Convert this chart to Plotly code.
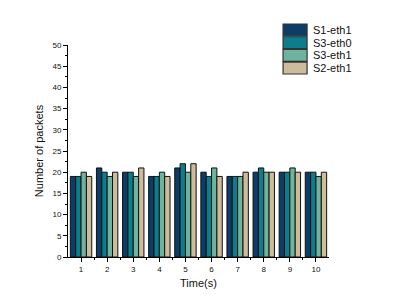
import plotly.graph_objects as go

times = [1, 2, 3, 4, 5, 6, 7, 8, 9, 10]
tick_labels = ["1", "2", "3", "4", "5", "6", "7", "8", "9", "10"]
series_names = ["S1-eth1", "S3-eth0", "S3-eth1", "S2-eth1"]
s1_eth1 = [19, 21, 20, 19, 21, 20, 19, 20, 20, 20]
s3_eth0 = [19, 20, 20, 19, 22, 19, 19, 21, 20, 20]
s3_eth1 = [20, 19, 19, 20, 20, 21, 19, 20, 21, 19]
s2_eth1 = [19, 20, 21, 19, 22, 19, 20, 20, 20, 20]
colors = ["#0b3d66", "#0a7e8c", "#6db39d", "#cdbb9b"]

values = [s1_eth1, s3_eth0, s3_eth1, s2_eth1]

fig = go.Figure()
for name, vals, col in zip(series_names, values, colors):
    fig.add_trace(go.Bar(x=times, y=vals, name=name, marker=dict(color=col, line=dict(color="#111111", width=1)),
                         showlegend=False))

# custom legend (paper coords = plot area)
shapes = []
annotations = []
lx0, lx1 = 0.824, 0.916
top = 1.099
row_h = 0.060
for i, (name, col) in enumerate(zip(series_names, colors)):
    y1 = top - i * row_h
    y0 = y1 - row_h * 0.93
    shapes.append(dict(type="rect", xref="paper", yref="paper", x0=lx0, x1=lx1, y0=y0, y1=y1,
                       fillcolor=col, line=dict(color="#333333", width=1.2)))
    annotations.append(dict(xref="paper", yref="paper", x=0.93, y=(y0 + y1) / 2, text=name, showarrow=False,
                            xanchor="left", yanchor="middle", font=dict(size=11, color="#111111")))

minor_vals = [t + 0.5 for t in times[:-1]]

fig.update_layout(
    width=390, height=300,
    margin=dict(l=60, r=69, t=37, b=51),
    paper_bgcolor="white", plot_bgcolor="white",
    barmode="group", bargap=0.18, bargroupgap=0,
    font=dict(family="Liberation Sans, Arial, sans-serif", color="#111111"),
    shapes=shapes, annotations=annotations,
    xaxis=dict(
        range=[0.5, 10.5], tickmode="array", tickvals=times, ticktext=tick_labels,
        showgrid=False, zeroline=False, showline=True, linecolor="black", linewidth=1,
        ticks="outside", ticklen=4, tickcolor="black", tickfont=dict(size=8),
        minor=dict(tickvals=minor_vals, ticks="outside", ticklen=2, tickcolor="black"),
        title=dict(text="Time(s)", font=dict(size=11), standoff=6),
    ),
    yaxis=dict(
        range=[0, 50], tickmode="linear", tick0=0, dtick=5,
        showgrid=False, zeroline=False, showline=True, linecolor="black", linewidth=1,
        ticks="outside", ticklen=4, tickcolor="black", tickfont=dict(size=8),
        minor=dict(dtick=2.5, ticks="outside", ticklen=2, tickcolor="black"),
        title=dict(text="Number of packets", font=dict(size=11), standoff=6),
    ),
)

fig.write_html("out.html")
